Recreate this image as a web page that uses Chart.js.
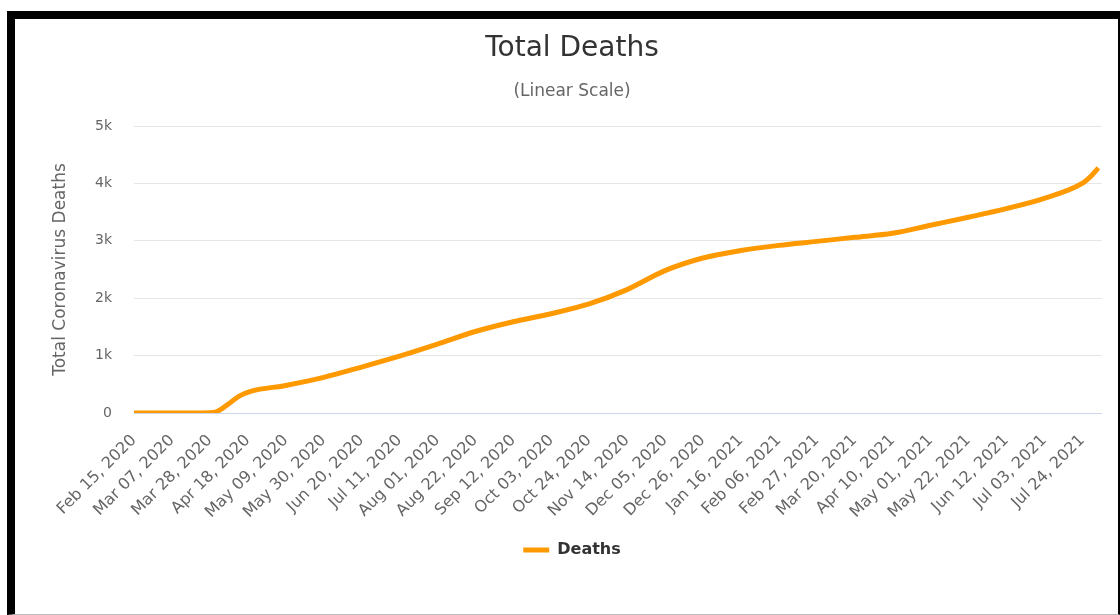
<!DOCTYPE html>
<html>
<head>
<meta charset="utf-8">
<title>Total Deaths</title>
<script src="https://cdn.jsdelivr.net/npm/chart.js@4.4.0/dist/chart.umd.min.js"></script>
<style>
  body { margin: 0; background: #fff; }
  #frame {
    position: absolute; left: 7px; top: 11px; width: 1103px; height: 595px;
    border-top: 8px solid #000; border-left: 8px solid #000;
    border-right: 2px solid #000; border-bottom: 1px solid #bbb;
  }
  #wrap { position: relative; width: 1103px; height: 595px; }
</style>
</head>
<body>
<div id="frame"><div id="wrap"><canvas id="lineChart-deaths"></canvas></div></div>
<script>
// x axis: days since Feb 15, 2020, one label every 3 weeks
const tickDays = [0, 21, 42, 63, 84, 105, 126, 147, 168, 189, 210, 231, 252,
    273, 294, 315, 336, 357, 378, 399, 420, 441, 462, 483, 504, 525];
const tickLabels = ["Feb 15, 2020", "Mar 07, 2020", "Mar 28, 2020", "Apr 18, 2020",
    "May 09, 2020", "May 30, 2020", "Jun 20, 2020", "Jul 11, 2020", "Aug 01, 2020",
    "Aug 22, 2020", "Sep 12, 2020", "Oct 03, 2020", "Oct 24, 2020", "Nov 14, 2020",
    "Dec 05, 2020", "Dec 26, 2020", "Jan 16, 2021", "Feb 06, 2021", "Feb 27, 2021",
    "Mar 20, 2021", "Apr 10, 2021", "May 01, 2021", "May 22, 2021", "Jun 12, 2021",
    "Jul 03, 2021", "Jul 24, 2021"];

// series
const pointDays = [0, 21, 42, 46, 52, 58, 65, 84, 105, 126, 147, 168, 189, 210, 231,
    252, 273, 294, 315, 336, 357, 378, 399, 420, 441, 462, 483, 504, 525, 530, 534];
const deaths = [0, 0, 5, 25, 150, 290, 380, 480, 620, 800, 990, 1200, 1420, 1590, 1730,
    1900, 2150, 2480, 2700, 2830, 2920, 2990, 3060, 3130, 3270, 3410, 3560, 3740, 4000, 4130, 4270];

const yTicks = [0, 1000, 2000, 3000, 4000, 5000];
const yTickLabels = ["0", "1k", "2k", "3k", "4k", "5k"];

const fontFamily = "'DejaVu Sans', Verdana, sans-serif";

let lineCtx_deaths = document.getElementById("lineChart-deaths");
let lineConfig_deaths = {
    type: 'line',
    data: {
        datasets: [{
            label: 'Deaths',
            data: pointDays.map((d, i) => ({ x: d, y: deaths[i] })),
            borderColor: '#ff9900',
            backgroundColor: '#ff9900',
            borderWidth: 5,
            pointRadius: 0,
            cubicInterpolationMode: 'monotone',
            fill: false,
        }]
    },
    options: {
        responsive: true,
        maintainAspectRatio: false,
        animation: false,
        // left padding shifts title and legend right, as in the original
        layout: { padding: { left: 27, right: 16, top: 0, bottom: 46 } },
        plugins: {
            title: {
                display: true,
                text: 'Total Deaths',
                color: '#333',
                font: { family: fontFamily, size: 28, weight: 'normal' },
                padding: { top: 13, bottom: 16 },
            },
            subtitle: {
                display: true,
                text: '(Linear Scale)',
                color: '#666',
                font: { family: fontFamily, size: 17, weight: 'normal' },
                padding: { top: 0, bottom: 24 },
            },
            legend: {
                position: 'bottom',
                labels: {
                    color: '#333',
                    font: { family: fontFamily, size: 16, weight: 'bold' },
                    usePointStyle: true,
                    pointStyle: 'line',
                    pointStyleWidth: 26,
                    padding: 9,
                },
            },
            tooltip: { enabled: false },
        },
        scales: {
            x: {
                type: 'linear',
                min: 0,
                max: 536,
                afterBuildTicks: axis => { axis.ticks = tickDays.map(v => ({ value: v })); },
                afterFit: axis => { axis.height = 120; },
                grid: { display: false },
                border: { display: false },
                ticks: {
                    autoSkip: false,
                    minRotation: 45,
                    maxRotation: 45,
                    padding: 10,
                    color: '#666',
                    font: { family: fontFamily, size: 16 },
                    callback: (value) => tickLabels[tickDays.indexOf(value)],
                },
            },
            y: {
                min: 0,
                max: 5000,
                afterBuildTicks: axis => { axis.ticks = yTicks.map(v => ({ value: v })); },
                afterFit: axis => { axis.width = 92; },
                grid: {
                    drawTicks: false,
                    color: ctx => ctx.tick && ctx.tick.value === 0 ? '#ccd6eb' : '#e6e6e6',
                },
                border: { display: false },
                ticks: {
                    padding: 22,
                    color: '#666',
                    font: { family: fontFamily, size: 14 },
                    callback: (value) => yTickLabels[yTicks.indexOf(value)],
                },
                title: {
                    display: true,
                    text: 'Total Coronavirus Deaths',
                    color: '#666',
                    font: { family: fontFamily, size: 17 },
                    padding: { top: 8, bottom: 0 },
                },
            },
        },
    },
};
let lineChart_deaths = new Chart(lineCtx_deaths, lineConfig_deaths);
</script>
</body>
</html>
